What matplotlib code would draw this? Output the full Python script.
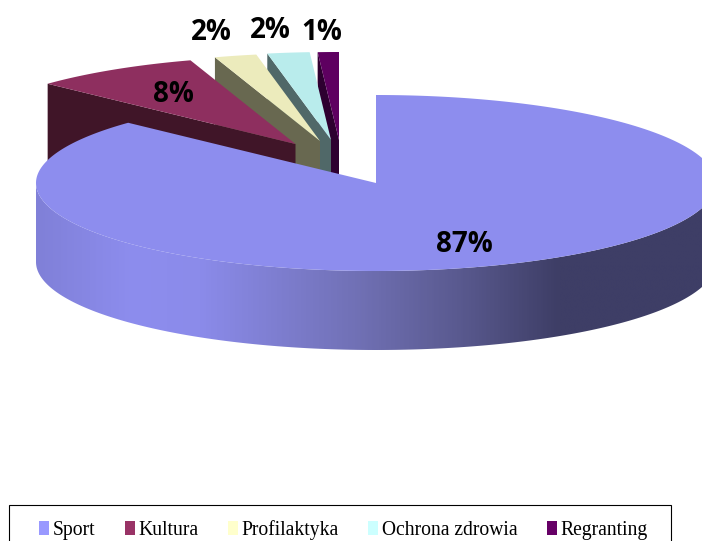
import numpy as np
import matplotlib
matplotlib.use('Agg')
import matplotlib.pyplot as plt
from matplotlib.patches import Polygon, Patch, Rectangle
from matplotlib.colors import LinearSegmentedColormap

categories = ['Sport', 'Kultura', 'Profilaktyka', 'Ochrona zdrowia', 'Regranting']
values = [87, 8, 2, 2, 1]
labels = ['87%', '8%', '2%', '2%', '1%']
top_colors = ['#8d8dee', '#8e2f5f', '#ecebbc', '#b9ecec', '#5e0060']
wall_colors = ['#8d8dee', '#401528', '#686850', '#506868', '#2e0030']
legend_colors = ['#9999ff', '#993366', '#ffffcc', '#ccffff', '#660066']

# where each slice sits in pixels (exploded slices have their own centre)
centres = [(376, 183), (295.5, 144), (320, 141), (331, 140), (339, 140)]
label_pos = [(464, 245), (173, 95), (211, 32), (270, 30), (322, 33)]
rx, ry, depth = 340, 88, 79

fig = plt.figure(figsize=(7.02, 5.41), dpi=100)
ax = fig.add_axes([0, 0, 1, 1])


def rim(cx, cy, a0, a1, n=200):
    # angles in radians, clockwise from 12 o'clock
    t = np.linspace(a0, a1, n)
    return np.column_stack([cx + rx * np.sin(t), cy - ry * np.cos(t)])


edges = 2 * np.pi * np.cumsum([0] + values) / sum(values)

# small slices, right to left, each top covers the wall of the next one
z = 1
for i in range(len(values) - 1, 0, -1):
    cx, cy = centres[i]
    top = rim(cx, cy, edges[i], edges[i + 1])
    p = top[0]
    wall = [p, (cx, cy), (cx, cy + depth), (p[0], p[1] + depth)]
    ax.add_patch(Polygon(wall, fc=wall_colors[i], ec='none', zorder=z))
    ax.add_patch(Polygon(top.tolist() + [(cx, cy)], fc=top_colors[i], ec='none', zorder=z + 0.5))
    z += 1

# front wall of the big slice, dark towards the right
cx, cy = centres[0]
shade = LinearSegmentedColormap.from_list('shade', [
    (0.0, '#8080d8'), (0.14, '#8d8dee'), (0.24, '#8b8bea'), (0.476, '#7070b4'),
    (0.62, '#5a5a90'), (0.77, '#3e3e66'), (1.0, '#3e3e66')])
front = rim(cx, cy, np.pi / 2, 3 * np.pi / 2)
wall = np.vstack([front, (front + [0, depth])[::-1]])
clip = Polygon(wall, fc='none', ec='none')
ax.add_patch(clip)
im = ax.imshow(np.linspace(0, 1, 400).reshape(1, -1), cmap=shade, aspect='auto',
               extent=(cx - rx, cx + rx, cy + ry + depth, cy), zorder=9)
im.set_clip_path(clip)

top = rim(cx, cy, edges[0], edges[1], 400)
ax.add_patch(Polygon(top.tolist() + [(cx, cy)], fc=top_colors[0], ec='none', zorder=10))

for (x, y), s in zip(label_pos, labels):
    ax.text(x, y, s, ha='center', va='center', fontsize=20, fontweight='bold',
            family='Open Sans', color='black', zorder=11)

ax.set_xlim(0, 702)
ax.set_ylim(541, 0)
ax.axis('off')

# legend box runs off the bottom of the picture
ax.add_patch(Rectangle((9, 505), 662, 60, fc='white', ec='black', lw=0.8, zorder=12))
handles = [Patch(fc=c, ec='none', label=n) for c, n in zip(legend_colors, categories)]
leg = ax.legend(handles=handles, ncol=5, loc='center left', bbox_to_anchor=(39, 530),
                bbox_transform=ax.transData, frameon=False,
                prop={'family': 'Liberation Serif', 'size': 14.1}, handlelength=0.51,
                handleheight=0.7, handletextpad=0.2, columnspacing=1.49,
                borderpad=0, borderaxespad=0)
leg.set_zorder(13)

fig.savefig('out.png', dpi=100)
